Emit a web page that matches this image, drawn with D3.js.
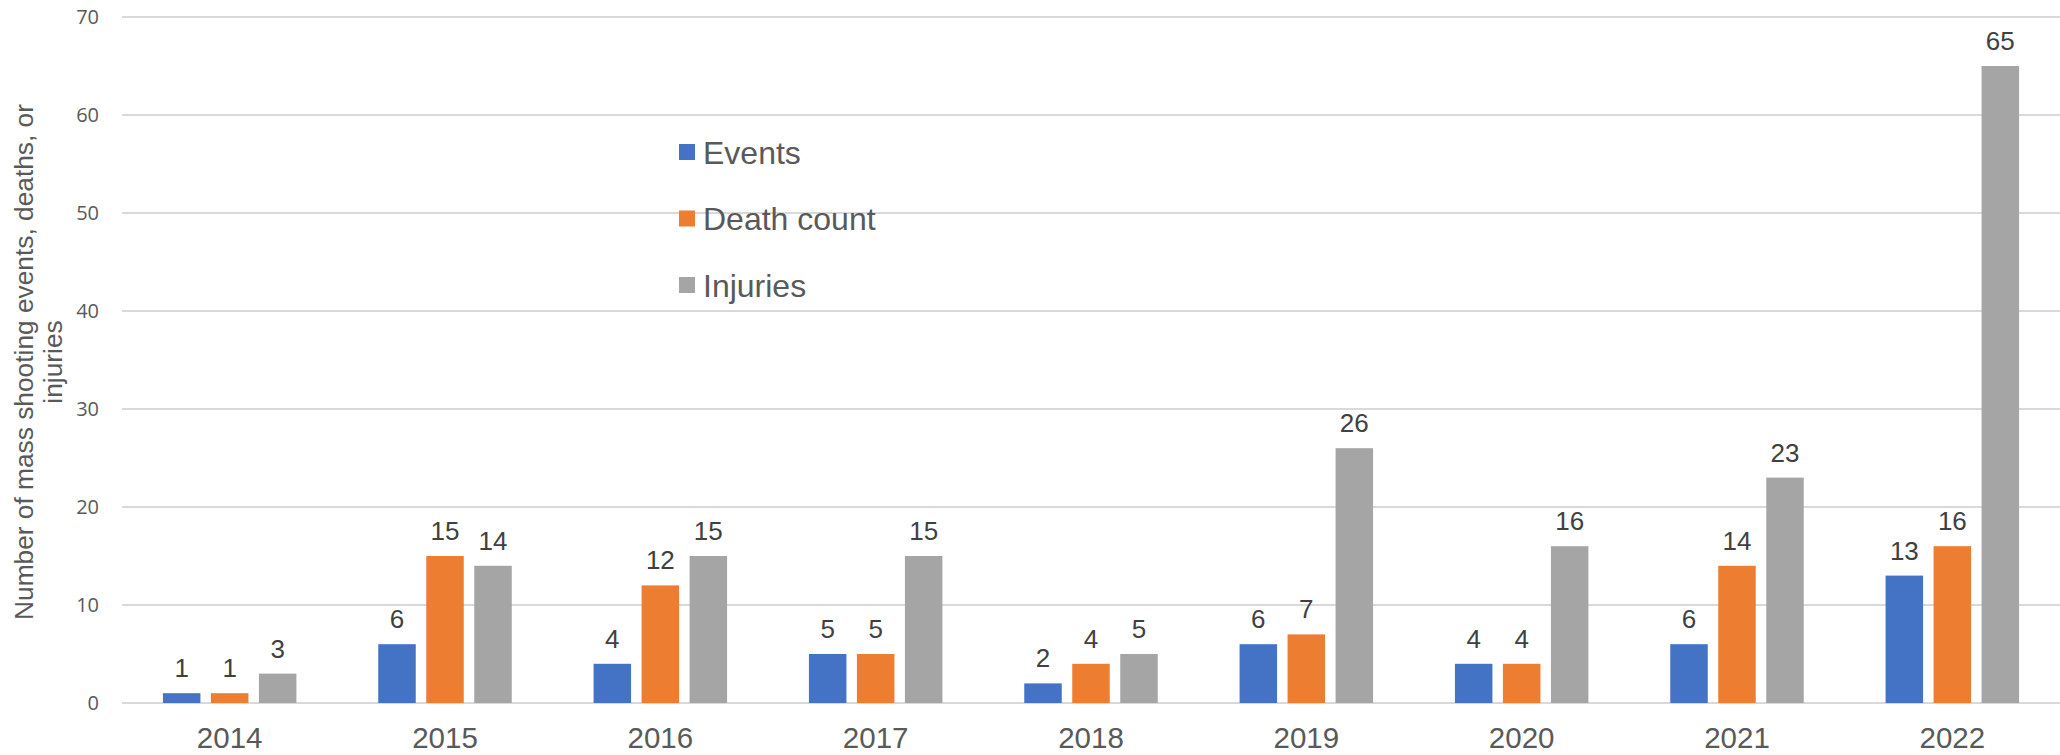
<!DOCTYPE html>
<html>
<head>
<meta charset="utf-8">
<script src="https://cdn.jsdelivr.net/npm/d3@7"></script>
<style>
  html, body { margin: 0; padding: 0; background: #fff; }
  svg { display: block; }
</style>
</head>
<body>
<svg id="chart" width="2060" height="755"></svg>
<script>
const years = ["2014", "2015", "2016", "2017", "2018", "2019", "2020", "2021", "2022"];
const seriesNames = ["Events", "Death count", "Injuries"];
const events = [1, 6, 4, 5, 2, 6, 4, 6, 13];
const deaths = [1, 15, 12, 5, 4, 7, 4, 14, 16];
const injuries = [3, 14, 15, 15, 5, 26, 16, 23, 65];
const yTicks = [0, 10, 20, 30, 40, 50, 60, 70];
const colors = ["#4472C4", "#ED7D31", "#A5A5A5"];
const yTitleLines = ["Number of mass shooting events, deaths, or", "injuries"];

const seriesValues = [events, deaths, injuries];

const svg = d3.select("#chart");
const margin = { left: 122, right: 0, top: 17, bottom: 52 };
const W = 2060, H = 755;

const x = d3.scaleBand().domain(years).range([margin.left, W - margin.right]).paddingInner(0).paddingOuter(0);
const y = d3.scaleLinear().domain([0, 70]).range([703, 17]);

const barW = 37.5, barGap = 10.5;
const xs = d3.scaleBand().domain(seriesNames).range([-(barW * 1.5 + barGap), barW * 1.5 + barGap]).paddingInner(barGap / (barW + barGap)).paddingOuter(0);

// gridlines
svg.append("g").selectAll("line").data(yTicks).join("line")
  .attr("x1", margin.left).attr("x2", W)
  .attr("y1", d => y(d)).attr("y2", d => y(d))
  .attr("stroke", "#D9D9D9").attr("stroke-width", 2);

// y tick labels
svg.append("g").selectAll("text").data(yTicks).join("text")
  .attr("x", 99).attr("y", d => y(d)).attr("dy", "0.35em")
  .attr("text-anchor", "end")
  .attr("font-family", "'Open Sans', sans-serif").attr("font-size", 20)
  .attr("fill", "#595959")
  .text(d => d);

// bars
const groups = svg.append("g").selectAll("g").data(years).join("g")
  .attr("transform", d => `translate(${x(d) + x.bandwidth() / 2},0)`);

groups.each(function(yr, i) {
  const g = d3.select(this);
  const data = seriesNames.map((s, k) => ({ s, k, v: seriesValues[k][i] }));
  g.selectAll("rect").data(data).join("rect")
    .attr("x", d => xs(d.s)).attr("width", xs.bandwidth())
    .attr("y", d => y(d.v)).attr("height", d => y(0) - y(d.v))
    .attr("fill", d => colors[d.k]);
  g.selectAll("text").data(data).join("text")
    .attr("x", d => xs(d.s) + xs.bandwidth() / 2)
    .attr("y", d => y(d.v) - 16)
    .attr("text-anchor", "middle")
    .attr("font-family", "'Liberation Sans', Arial, sans-serif").attr("font-size", 26)
    .attr("fill", "#404040")
    .text(d => d.v);
});

// x labels
svg.append("g").selectAll("text").data(years).join("text")
  .attr("x", d => x(d) + x.bandwidth() / 2).attr("y", 748)
  .attr("text-anchor", "middle")
  .attr("font-family", "'Liberation Sans', Arial, sans-serif").attr("font-size", 29.5)
  .attr("fill", "#595959")
  .text(d => d);

// y title
const yt = svg.append("text")
  .attr("transform", "translate(0,362) rotate(-90)")
  .attr("text-anchor", "middle")
  .attr("font-family", "'Liberation Sans', Arial, sans-serif").attr("font-size", 26.3)
  .attr("fill", "#595959");
yTitleLines.forEach((t, i) => {
  yt.append("tspan").attr("x", 0).attr("y", 33 + i * 29).text(t);
});

// legend
const legend = svg.append("g").selectAll("g").data(seriesNames).join("g")
  .attr("transform", (d, i) => `translate(679,${152 + i * 66.5})`);
legend.append("rect").attr("x", 0).attr("y", -8).attr("width", 16).attr("height", 16)
  .attr("fill", (d, i) => colors[i]);
legend.append("text").attr("x", 24).attr("y", 0).attr("dy", "0.36em")
  .attr("font-family", "'Liberation Sans', Arial, sans-serif").attr("font-size", 32)
  .attr("fill", "#595959")
  .text(d => d);
</script>
</body>
</html>
